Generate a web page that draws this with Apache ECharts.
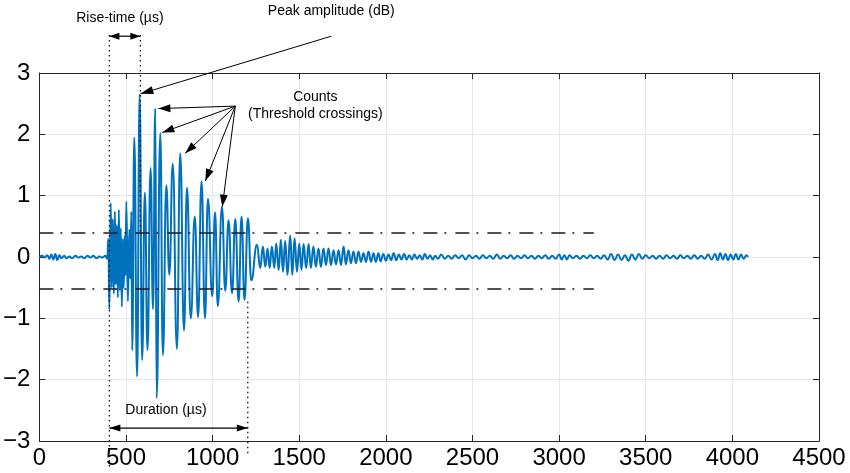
<!DOCTYPE html>
<html><head><meta charset="utf-8">
<script src="https://cdn.jsdelivr.net/npm/echarts@6/dist/echarts.min.js"></script>
<style>html,body{margin:0;padding:0;background:#fff}#c{width:850px;height:473px}</style>
</head><body><div id="c"></div>
<script>
// ---- axes ----
const xTicks = [0, 500, 1000, 1500, 2000, 2500, 3000, 3500, 4000, 4500];
const yTicks = [-3, -2, -1, 0, 1, 2, 3];

// ---- waveform (time in µs, amplitude) ----
const preTrigger = [[0,0],[17,0.02],[29,-0.01],[46,0.03],[58,-0.03],[69,0.04],[81,-0.04],[92,0.05],[104,-0.05],[115,0.03],[127,-0.02],[144,0.02],[156,-0.02],[173,0.01],[190,-0.02],[208,0.02],[225,-0.01],[242,0.01],[260,-0.02],[277,0.02],[294,-0.01],[312,0.02],[329,-0.02],[346,0.01],[363,-0.01],[381,0.02],[392,-0.03]];
const burst = [[398,0.30],[404,-0.86],[412,0.88],[418,-0.50],[424,0.62],[430,-0.60],[436,0.74],[441,-0.45],[447,0.52],[453,-0.66],[459,0.77],[464,-0.55],[470,0.47],[476,-0.81],[482,0.30],[487,-0.50],[493,0.35],[497,-0.30],[502,0.90],[511,-0.72],[519,0.45],[525,-0.35],[531,0.74],[536,-1.52],[548,1.95],[564,-1.95],[579,2.65],[593,-1.68],[609,1.05],[624,-1.52],[642,1.45],[656,-0.85],[669,2.42],[677,-2.30],[698,2.02],[713,-1.60],[733,1.17],[750,-0.29],[770,1.52],[794,-1.50],[813,1.69],[835,-1.20],[852,1.13],[874,-1.00],[897,0.66],[916,-0.98],[936,1.23],[956,-1.00],[973,0.95],[998,-0.64],[1014,0.73],[1030,-0.80],[1054,0.82],[1073,-0.55],[1092,0.60],[1112,-0.59],[1131,0.62],[1150,-0.73],[1167,0.66],[1184,-0.70],[1204,0.63],[1223,-0.38]];
const decay = [[1256,0.20],[1275,-0.18],[1290,0.17],[1304,-0.16],[1317,0.14],[1329,-0.18],[1342,0.17],[1356,-0.18],[1367,0.22],[1381,-0.21],[1394,0.28],[1406,-0.24],[1419,0.26],[1432,-0.29],[1448,0.35],[1460,-0.29],[1473,0.30],[1487,-0.24],[1500,0.22],[1513,-0.21],[1525,0.21],[1540,-0.18],[1554,0.21],[1567,-0.18],[1582,0.17],[1596,-0.16],[1611,0.14],[1625,-0.16],[1640,0.14],[1654,-0.13],[1669,0.14],[1683,-0.13],[1698,0.11],[1712,-0.12],[1727,0.11],[1741,-0.13],[1756,0.17],[1769,-0.12],[1784,0.11],[1798,-0.10],[1813,0.09],[1827,-0.10],[1842,0.09],[1856,-0.08],[1871,0.06],[1885,-0.08],[1900,0.09],[1914,-0.08],[1929,0.06],[1942,-0.08],[1957,0.06]];
const tail = [[1970,-0.07],[1985,0.05],[2000,-0.06],[2015,0.04],[2030,-0.05],[2045,0.06],[2060,-0.05],[2075,0.04],[2090,-0.04],[2105,0.05],[2120,-0.04],[2135,0.03],[2150,-0.04],[2165,0.04],[2180,-0.03],[2195,0.03],[2210,-0.04],[2225,0.05],[2240,-0.03],[2255,0.03],[2270,-0.04],[2285,0.02],[2300,-0.03],[2320,0.04],[2340,-0.03],[2360,0.02],[2380,-0.03],[2400,0.03],[2420,-0.02],[2440,0.03],[2460,-0.04],[2480,0.03],[2500,-0.02],[2520,0.02],[2540,-0.03],[2560,0.03],[2580,-0.02],[2600,0.02],[2620,-0.03],[2640,0.04],[2660,-0.03],[2680,0.02],[2700,-0.02],[2720,0.03],[2740,-0.03],[2760,0.02],[2780,-0.02],[2800,0.03],[2820,-0.02],[2840,0.02],[2860,-0.03],[2880,0.02],[2900,-0.02],[2920,0.03],[2940,-0.03],[2960,0.02],[2980,-0.03],[3000,0.04],[3015,-0.04],[3030,0.03],[3045,-0.04],[3060,0.03],[3080,-0.02],[3100,0.02],[3120,-0.03],[3140,0.02],[3160,-0.02],[3180,0.03],[3200,-0.02],[3220,0.02],[3240,-0.03],[3260,0.03],[3280,-0.04],[3300,0.05],[3320,-0.05],[3340,0.04],[3360,-0.05],[3380,0.03],[3400,-0.06],[3420,0.04],[3440,-0.04],[3460,0.05],[3480,-0.03],[3500,0.03],[3520,-0.02],[3540,0.02],[3560,-0.03],[3580,0.02],[3600,-0.03],[3620,0.03],[3640,-0.02],[3660,0.02],[3680,-0.03],[3700,0.03],[3720,-0.02],[3740,0.02],[3760,-0.03],[3780,0.03],[3800,-0.03],[3820,0.02],[3840,-0.03],[3860,0.04],[3880,-0.04],[3900,0.05],[3915,-0.05],[3930,0.06],[3945,-0.04],[3960,0.05],[3975,-0.05],[3990,0.04],[4005,-0.04],[4020,0.05],[4035,-0.04],[4050,0.04],[4065,-0.03],[4080,0.03],[4090,0]];

// ---- annotation values (data units) ----
const thresholds = [0.4, -0.52];
const thresholdEnd = 3200;
const riseStart = 404, riseEnd = 583, peakValue = 2.66, durationEnd = 1203;
const annotTop = 3.62, riseArrowY = 3.6, durationArrowY = -2.79;
const riseLineBottom = -3.45, durationLineTop = -0.73, durationLineBottom = -3.2;
const peakLabelAnchor = [1685, 3.6];
const countOrigin = [1131, 2.46];
const countTargets = [[687, 2.42], [710, 2.03], [842, 1.69], [958, 1.24], [1056, 0.82]];
const texts = { rise: 'Rise-time (µs)', peak: 'Peak amplitude (dB)', counts1: 'Counts', counts2: '(Threshold crossings)', duration: 'Duration (µs)' };

const signal = [].concat(preTrigger, burst, decay, tail);
const FONT = '"Liberation Sans", Arial, Helvetica, sans-serif';
const TICKFONT = '"Liberation Sans Narrow", "Liberation Sans", Arial, sans-serif';
const AX = '#262626';

const chart = echarts.init(document.getElementById('c'), null, { renderer: 'canvas' });
const baseX = { type: 'value', min: xTicks[0], max: xTicks[xTicks.length - 1], interval: xTicks[1] - xTicks[0] };
const baseY = { type: 'value', min: yTicks[0], max: yTicks[yTicks.length - 1], interval: yTicks[1] - yTicks[0] };
const minus = v => String(v).replace('-', '\u2212');
const axLine = { show: true, onZero: false, lineStyle: { color: AX, width: 1 } };
const axTick = { show: true, inside: true, length: 6, lineStyle: { color: AX } };

chart.setOption({
  animation: false,
  grid: { left: 39, right: 31, top: 73, bottom: 32 },
  xAxis: [
    Object.assign({}, baseX, {
      position: 'bottom', axisLine: axLine, axisTick: axTick,
      axisLabel: { fontSize: 24, color: '#000', margin: 5, fontFamily: TICKFONT, formatter: minus },
      splitLine: { show: true, lineStyle: { color: '#e6e6e6', width: 1 } }
    }),
    Object.assign({}, baseX, {
      position: 'top', axisLine: axLine, axisTick: axTick,
      axisLabel: { show: false }, splitLine: { show: false }
    })
  ],
  yAxis: [
    Object.assign({}, baseY, {
      position: 'left', axisLine: axLine, axisTick: axTick,
      axisLabel: { fontSize: 24, color: '#000', margin: 9, fontFamily: TICKFONT, formatter: minus },
      splitLine: { show: true, lineStyle: { color: '#e6e6e6', width: 1 } }
    }),
    Object.assign({}, baseY, {
      position: 'right', axisLine: axLine, axisTick: axTick,
      axisLabel: { show: false }, splitLine: { show: false }
    })
  ],
  series: [{
    type: 'line', xAxisIndex: 0, yAxisIndex: 0, data: signal,
    showSymbol: false, smooth: 0.5, smoothMonotone: 'x', sampling: null,
    lineStyle: { color: '#0072BD', width: 2 },
    markLine: {
      silent: true, symbol: ['none', 'none'], label: { show: false }, animation: false,
      lineStyle: { color: '#1a1a1a', width: 1.6, type: [14, 7, 2, 9] },
      data: thresholds.map(v => [{ coord: [0, v] }, { coord: [thresholdEnd, v] }])
    }
  }]
});

// ---- annotations positioned through the chart's own scales ----
const P = (t, v) => chart.convertToPixel({ seriesIndex: 0 }, [t, v]);
function line(a, b, extra) {
  return Object.assign({ type: 'line', silent: true, z: 50,
    shape: { x1: a[0], y1: a[1], x2: b[0], y2: b[1] },
    style: { stroke: '#000', lineWidth: 1 } }, extra || {});
}
function head(tip, from, L, W) {
  const dx = from[0] - tip[0], dy = from[1] - tip[1], d = Math.hypot(dx, dy);
  const ux = dx / d, uy = dy / d, nx = -uy, ny = ux;
  return { type: 'polygon', silent: true, z: 51, shape: { points: [
    [tip[0], tip[1]],
    [tip[0] + ux * L + nx * W / 2, tip[1] + uy * L + ny * W / 2],
    [tip[0] + ux * L - nx * W / 2, tip[1] + uy * L - ny * W / 2]] },
    style: { fill: '#000' } };
}
function text(str, x, y, align) {
  return { type: 'text', silent: true, z: 52, x: x, y: y,
    style: { text: str, font: '14px ' + FONT, fill: '#000', align: align || 'center', verticalAlign: 'middle' } };
}
const dotted = { style: { stroke: '#000', lineWidth: 1.2, lineDash: [1.5, 3.5] } };
const g = [];
g.push(line(P(riseStart, annotTop), P(riseStart, riseLineBottom), dotted));
g.push(line(P(riseEnd, annotTop), P(riseEnd, thresholds[0]), dotted));
g.push(line(P(durationEnd, durationLineTop), P(durationEnd, durationLineBottom), dotted));
// rise-time double arrow
const ra = P(riseStart, riseArrowY), rb = P(riseEnd, riseArrowY);
g.push(line(ra, rb, { style: { stroke: '#000', lineWidth: 1.2 } }));
g.push(head(ra, rb, 10, 7), head(rb, ra, 10, 7));
g.push(text(texts.rise, (ra[0] + rb[0]) / 2 - 5, ra[1] - 18));
// duration double arrow
const da = P(riseStart, durationArrowY), db = P(durationEnd, durationArrowY);
g.push(line(da, db, { style: { stroke: '#000', lineWidth: 1.2 } }));
g.push(head(da, db, 11, 7), head(db, da, 11, 7));
g.push(text(texts.duration, da[0] + 16, da[1] - 18, 'left'));
// peak amplitude
const pa = P(peakLabelAnchor[0], peakLabelAnchor[1]), pt = P(riseEnd, peakValue);
g.push(line(pa, pt));
g.push(head(pt, pa, 13, 8));
g.push(text(texts.peak, pa[0], pa[1] - 25));
// counts
const co = P(countOrigin[0], countOrigin[1]);
countTargets.forEach(ct => { const p = P(ct[0], ct[1]); g.push(line(co, p), head(p, co, 12, 8)); });
g.push(text(texts.counts1, co[0] + 80, co[1] - 9));
g.push(text(texts.counts2, co[0] + 80, co[1] + 8));
chart.setOption({ graphic: { elements: g } });
</script>
</body></html>
